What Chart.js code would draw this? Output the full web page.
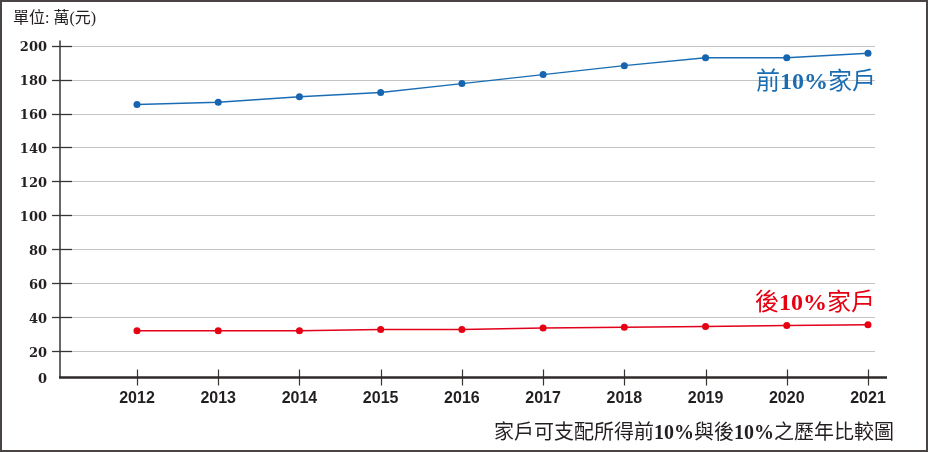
<!DOCTYPE html>
<html>
<head>
<meta charset="utf-8">
<script src="https://cdn.jsdelivr.net/npm/chart.js@4.4.1/dist/chart.umd.min.js"></script>
<style>
  html, body { margin: 0; padding: 0; background: #fff; }
  #wrap { position: relative; width: 930px; height: 452px; overflow: hidden; }
  #frame { position: absolute; left: 0; top: 0; width: 924px; height: 448px; border: 2px solid #4a4444; pointer-events: none; }
  canvas { position: absolute; left: 0; top: 0; }
  .txt { position: absolute; white-space: nowrap; font-family: "Liberation Serif", "Noto Sans CJK TC", serif; }
  .num { font-weight: bold; }
  #unit { left: 13px; top: 8px; font-size: 16px; line-height: 20px; color: #231f20; }
  #lblTop { left: 756px; top: 68px; font-size: 24px; line-height: 26px; color: #1a6db2; }
  #lblBot { left: 755px; top: 289px; font-size: 24px; line-height: 26px; color: #e60012; }
  #caption { left: 494px; top: 420px; font-size: 20px; line-height: 24px; color: #231f20; }
</style>
</head>
<body>
<div id="wrap">
  <canvas id="c" width="930" height="452"></canvas>
  <div id="frame"></div>
  <div class="txt" id="unit">單位: 萬(元)</div>
  <div class="txt" id="lblTop">前<span class="num">10%</span>家戶</div>
  <div class="txt" id="lblBot">後<span class="num">10%</span>家戶</div>
  <div class="txt" id="caption">家戶可支配所得前<span class="num">10%</span>與後<span class="num">10%</span>之歷年比較圖</div>
</div>
<script>
// ---- data ----
const years = [2012, 2013, 2014, 2015, 2016, 2017, 2018, 2019, 2020, 2021];
const top10 = [165.3, 166.7, 169.8, 172.3, 177.6, 182.9, 188.2, 192.8, 192.8, 195.5];
const bottom10 = [32.0, 32.0, 32.1, 32.7, 32.7, 33.7, 34.1, 34.5, 35.1, 35.5];
const yTickValues = [20, 40, 60, 80, 100, 120, 140, 160, 180, 200];
const yZeroLabel = '0';
// the original axis is broken: its bottom ("0") sits slightly above the true zero
const yAxisFloor = 4.5;
const yAxisCeil = 203;

const INK = '#231f20';

const axesPlugin = {
  id: 'customAxes',
  beforeDatasetsDraw(chart) {
    const { ctx, chartArea: a, scales: { x, y } } = chart;
    ctx.save();
    // horizontal grid lines
    ctx.strokeStyle = '#c4c4c4';
    ctx.lineWidth = 1.2;
    yTickValues.forEach(v => {
      const py = Math.round(y.getPixelForValue(v)) + 0.5;
      ctx.beginPath(); ctx.moveTo(a.left + 12, py); ctx.lineTo(a.right - 12, py); ctx.stroke();
    });
    // y tick marks crossing the axis
    ctx.strokeStyle = '#3a3535';
    ctx.lineWidth = 1.3;
    yTickValues.forEach(v => {
      const py = Math.round(y.getPixelForValue(v)) + 0.5;
      ctx.beginPath(); ctx.moveTo(a.left - 8, py); ctx.lineTo(a.left + 12, py); ctx.stroke();
    });
    // y axis line
    ctx.lineWidth = 1.5;
    ctx.beginPath(); ctx.moveTo(a.left, a.top); ctx.lineTo(a.left, a.bottom); ctx.stroke();
    // x tick marks
    ctx.lineWidth = 1.2;
    years.forEach(v => {
      const px = Math.round(x.getPixelForValue(v)) + 0.5;
      ctx.beginPath(); ctx.moveTo(px, a.bottom - 8); ctx.lineTo(px, a.bottom + 8); ctx.stroke();
    });
    // x axis line
    ctx.strokeStyle = '#2e2a2a';
    ctx.lineWidth = 2.4;
    ctx.beginPath(); ctx.moveTo(a.left - 1, a.bottom); ctx.lineTo(a.right, a.bottom); ctx.stroke();
    ctx.restore();
  }
};

new Chart(document.getElementById('c'), {
  type: 'line',
  data: {
    datasets: [
      {
        label: '前10%家戶',
        data: years.map((yr, i) => ({ x: yr, y: top10[i] })),
        borderColor: '#1a6db4',
        backgroundColor: '#1565b0',
        pointBackgroundColor: '#1565b0',
        pointBorderWidth: 0,
        pointRadius: 3.5,
        borderWidth: 1.5,
        tension: 0
      },
      {
        label: '後10%家戶',
        data: years.map((yr, i) => ({ x: yr, y: bottom10[i] })),
        borderColor: '#e2001a',
        backgroundColor: '#e60012',
        pointBackgroundColor: '#e60012',
        pointBorderWidth: 0,
        pointRadius: 3.5,
        borderWidth: 1.5,
        tension: 0
      }
    ]
  },
  options: {
    responsive: false,
    animation: false,
    events: [],
    layout: { padding: { left: 0, top: 40.5, right: 43, bottom: 40.5 } },
    plugins: { legend: { display: false }, tooltip: { enabled: false } },
    scales: {
      x: {
        type: 'linear',
        min: 2011.052,
        max: 2021.234,
        afterBuildTicks: s => { s.ticks = years.map(v => ({ value: v })); },
        afterFit: s => { s.height = 34; },
        grid: { display: false, drawTicks: false, tickLength: 0 },
        border: { display: false },
        ticks: {
          padding: 11,
          color: INK,
          font: { family: '"Liberation Sans", Arial, sans-serif', weight: 'bold', size: 16 },
          callback: v => String(v)
        }
      },
      y: {
        type: 'linear',
        min: yAxisFloor,
        max: yAxisCeil,
        afterBuildTicks: s => { s.ticks = [{ value: yAxisFloor }].concat(yTickValues.map(v => ({ value: v }))); },
        afterFit: s => { s.width = 60; },
        grid: { display: false, drawTicks: false, tickLength: 0 },
        border: { display: false },
        ticks: {
          padding: 13,
          labelOffset: 2.5,
          color: INK,
          font: { family: '"DejaVu Serif", serif', weight: 'bold', size: 13 },
          callback: v => (v === yAxisFloor ? yZeroLabel : String(v))
        }
      }
    }
  },
  plugins: [axesPlugin]
});
</script>
</body>
</html>
